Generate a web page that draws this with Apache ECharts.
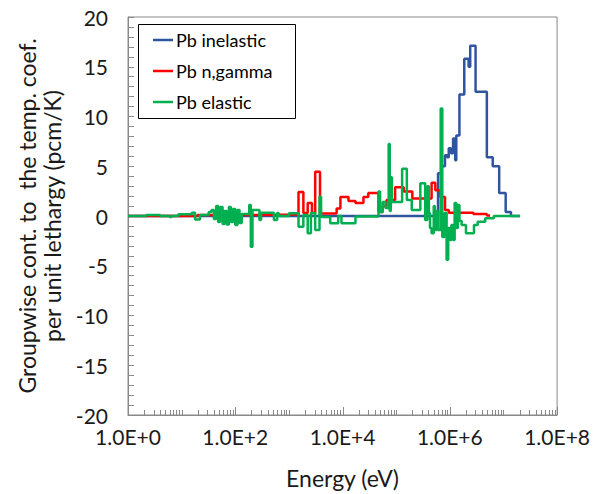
<!DOCTYPE html>
<html>
<head>
<meta charset="utf-8">
<script src="https://cdn.jsdelivr.net/npm/echarts@6/dist/echarts.min.js"></script>
<style>
  html, body { margin: 0; padding: 0; background: #fff; }
  #chart { width: 593px; height: 494px; }
</style>
</head>
<body>
<div id="chart"></div>
<script>
// Group lower edges (eV) and per-group values (pcm/K per unit lethargy).
// The last entry of each list closes the final group.
const inelasticE = [1, 6.03e5, 7.08e5, 8.13e5, 8.91e5, 9.55e5, 1.05e6, 1.15e6, 1.26e6, 1.32e6,
  1.51e6, 1.86e6, 2.24e6, 2.40e6, 3.02e6, 4.90e6, 6.31e6, 8.32e6, 1.10e7, 1.38e7, 2.04e7];
const inelasticV = [0, 4.3, 5.0, 6.1, 5.9, 6.8, 6.3, 7.8, 5.6, 8.1,
  12.2, 15.8, 15.0, 17.1, 12.5, 5.9, 5.0, 2.3, 0.4, 0, 0];

const ngammaE = [1, 20, 316, 1510, 1860, 2240, 2690, 3090, 3800, 7760, 9120, 1.29e4, 1.74e4,
  2.45e4, 3.02e4, 4.68e4, 5.62e4, 6.61e4, 9.55e4, 1.38e5, 2.0e5, 4.57e5, 5.37e5, 6.61e5,
  8.13e5, 9.55e5, 2.75e6, 4.90e6, 5.62e6];
const ngammaV = [0, 0.1, 0.15, 2.4, 0.3, 1.3, 0.3, 4.45, 0.25, 0.75, 1.9, 1.5, 1.3,
  1.9, 2.3, 0.4, 1.0, 1.6, 2.9, 2.45, 1.75, 3.35, 2.6, 1.9,
  0.6, 0.33, 0.2, 0.05, 0];

const elasticE = [1, 2.2, 4.0, 6.0, 6.5, 8.7, 15.5, 17.8, 22, 32,
  36, 40, 44, 48, 52, 58, 63, 69, 76, 83, 91, 100, 110, 120,
  132, 182, 195, 209, 282, 302, 525, 603, 646, 1000,
  1510, 1860, 2240, 2570, 3090, 3720, 3980, 5890, 8320, 9550, 1.74e4,
  4.68e4, 5.01e4, 5.62e4, 6.31e4, 7.24e4, 7.59e4, 7.94e4, 8.32e4, 1.29e5, 1.58e5, 1.95e5,
  2.82e5, 3.47e5, 3.80e5, 4.07e5, 4.27e5, 4.57e5, 5.01e5, 5.25e5, 5.62e5, 6.03e5,
  6.76e5, 7.24e5, 7.94e5, 8.71e5, 9.33e5, 1.0e6, 1.07e6, 1.15e6, 1.23e6, 1.32e6,
  1.41e6, 1.51e6, 1.66e6, 2.0e6, 2.82e6, 3.31e6, 4.57e6, 6.61e6, 2.04e7];
const elasticV = [0, 0.1, 0, -0.1, 0, 0.17, 0.33, -0.35, 0.1, 0.4,
  0.6, -0.3, 1.0, -0.6, 0.9, -0.8, 0.5, -0.85, 0.9, -0.6, 0.7, -0.9, 0.6, -0.7,
  0.2, 1.1, -3.1, 0.6, -0.4, 0.33, -0.4, 0.3, 0, 0.27,
  -1.07, 0.1, -1.74, 0.3, -1.4, 1.94, -0.1, -0.74, 0, -0.74, -0.05,
  2.45, 0.4, 1.4, 0.8, 7.24, 0.5, 3.9, 1.4, 4.75, 1.6, 0.6,
  3.28, -0.4, 3.0, 0.3, -1.2, -1.74, 1.0, -1.4, 0.5, -1.4,
  10.8, -2.1, 0.3, -4.4, -1.2, -2.4, -0.9, -2.4, 1.3, -1.2,
  1.1, -0.5, -0.9, -1.74, -0.9, -0.57, -0.23, 0, 0];

const seriesNames = ['Pb inelastic', 'Pb n,gamma', 'Pb elastic'];
const seriesColors = ['#2f55a0', '#ff0000', '#00b050'];

const yTicks = { min: -20, max: 20, step: 5 };
const xRange = { min: 1, max: 1e8 };

const FONT = 'Lato, "Open Sans", sans-serif';
const AXIS_GREY = '#898989';
const TEXT = '#1a1a1a';

function pairs(xs, ys) { return xs.map((x, i) => [x, ys[i]]); }

const chart = echarts.init(document.getElementById('chart'), null, { renderer: 'svg' });

const stepSeries = [
  [inelasticE, inelasticV],
  [ngammaE, ngammaV],
  [elasticE, elasticV]
].map(([xs, ys], i) => ({
  name: seriesNames[i],
  type: 'line',
  step: 'end',
  showSymbol: false,
  symbol: 'none',
  data: pairs(xs, ys),
  lineStyle: { color: seriesColors[i], width: 2.5 },
  itemStyle: { color: seriesColors[i] },
  z: 2 + i,
  animation: false
}));

chart.setOption({
  animation: false,
  textStyle: { fontFamily: FONT },
  grid: {
    left: 128, top: 17, right: 35, bottom: 79,
    show: true, borderColor: AXIS_GREY, borderWidth: 1, backgroundColor: 'transparent'
  },
  xAxis: {
    type: 'log',
    logBase: 10,
    min: xRange.min, max: xRange.max,
    interval: 2,
    name: 'Energy (eV)',
    nameLocation: 'middle',
    nameGap: 51,
    nameTextStyle: { fontFamily: FONT, fontSize: 23, color: TEXT },
    axisLine: { onZero: false, lineStyle: { color: AXIS_GREY, width: 1 } },
    axisTick: { show: false },
    splitLine: { show: false },
    axisLabel: {
      fontFamily: FONT, fontSize: 21, color: TEXT, margin: 11,
      formatter: v => {
        const e = Math.round(Math.log10(v));
        return e % 2 === 0 ? '1.0E+' + e : '';
      }
    }
  },
  yAxis: {
    type: 'value',
    min: yTicks.min, max: yTicks.max, interval: yTicks.step,
    name: 'Groupwise cont. to  the temp. coef.\nper unit lethargy (pcm/K)',
    nameLocation: 'middle',
    nameRotate: 90,
    nameGap: 64,
    nameTextStyle: { fontFamily: FONT, fontSize: 23, color: TEXT, lineHeight: 25 },
    axisLine: { show: true, lineStyle: { color: AXIS_GREY, width: 1 } },
    axisTick: { show: true, inside: true, length: 6, lineStyle: { color: AXIS_GREY } },
    minorTick: { show: true, splitNumber: 5, length: 6, lineStyle: { color: AXIS_GREY } },
    splitLine: { show: false },
    axisLabel: { fontFamily: FONT, fontSize: 21, color: TEXT, margin: 20 }
  },
  series: stepSeries
});

// Logarithmic tick marks along the energy axis: 2..9 within each decade,
// decade marks between labels, and longer marks at the labelled decades.
function energyTicks() {
  const yBase = chart.convertToPixel({ yAxisIndex: 0 }, yTicks.min);
  const marks = [];
  const tick = (x, len) => marks.push({
    type: 'line', silent: true,
    shape: { x1: x, y1: yBase, x2: x, y2: yBase - len },
    style: { stroke: AXIS_GREY, lineWidth: 1 }
  });
  for (let d = 0; d < 8; d++) {
    for (let k = 1; k <= 9; k++) {
      const e = k * Math.pow(10, d);
      if (e <= xRange.min) continue;
      const x = Math.round(chart.convertToPixel({ xAxisIndex: 0 }, e)) + 0.5;
      tick(x, (k === 1 && d % 2 === 0) ? 8 : 5);
    }
  }
  tick(Math.round(chart.convertToPixel({ xAxisIndex: 0 }, xRange.max)) + 0.5, 8);
  return marks;
}

// Boxed key in the upper left of the plot: a line sample and the series name per row.
function legendBox() {
  const box = { x: 138.5, y: 24.5, w: 157, h: 94 };
  const rowY = [40, 71, 102];
  const items = [{
    type: 'rect', silent: true, z: 10,
    shape: { x: box.x, y: box.y, width: box.w, height: box.h },
    style: { fill: '#fff', stroke: '#000', lineWidth: 1 }
  }];
  seriesNames.forEach((name, i) => {
    items.push({
      type: 'line', silent: true, z: 11,
      shape: { x1: 153, y1: rowY[i], x2: 173, y2: rowY[i] },
      style: { stroke: seriesColors[i], lineWidth: 2.5 }
    });
    items.push({
      type: 'text', silent: true, z: 11,
      x: 176, y: rowY[i],
      style: {
        text: name, fill: '#000', font: '18px ' + FONT,
        textAlign: 'left', textVerticalAlign: 'middle', verticalAlign: 'middle'
      }
    });
  });
  return items;
}

chart.setOption({ graphic: energyTicks().concat(legendBox()) });
</script>
</body>
</html>
